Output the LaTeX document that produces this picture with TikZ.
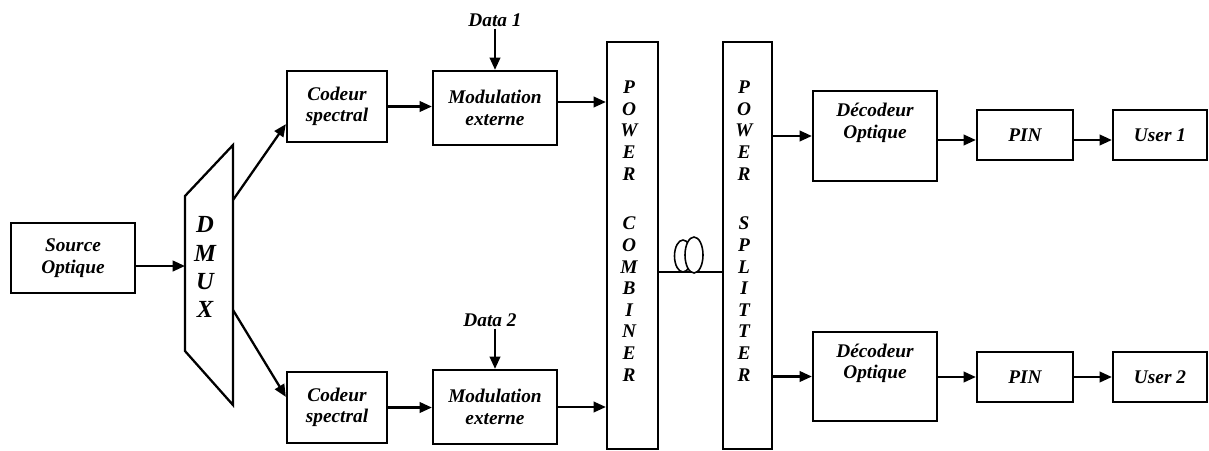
\documentclass[tikz,border=0pt]{standalone}
\usepackage{fontspec}
\setmainfont{Liberation Serif}
\usetikzlibrary{arrows.meta,calc}
\newcommand\lbl{\fontsize{11}{12.3}\selectfont\bfseries\itshape}
\newcommand\dmuxfont{\fontsize{14}{16}\selectfont\bfseries\itshape}
\begin{document}
\begin{tikzpicture}[x=0.02cm,y=-0.02cm,
  box/.style={draw, line width=1.3pt, inner sep=0pt, font=\lbl, align=center},
  txt/.style={inner sep=1pt, font=\lbl, align=center},
  arr/.style={line width=1.3pt, -{Triangle[length=7pt,width=6pt]}},
  fiber/.style={line width=0.9pt}]
\useasboundingbox (0,0) rectangle (1209,450);

% source and demultiplexer
\node[box, minimum width=2.48cm, minimum height=1.4cm] (src) at (73,258) {Source\\Optique};
\draw[line width=1.3pt] (185,196) -- (233,145) -- (233,405) -- (185,351) -- cycle;
\coordinate (dmuxin) at (185,266);
\coordinate (dmuxup) at (233,200);
\coordinate (dmuxdn) at (233,310);
\node[inner sep=0pt, font=\dmuxfont, align=center] (dmuxlbl) at (205,267) {D\\M\\U\\X};
\draw[arr] (src.east |- dmuxin) -- (dmuxin);

% upper branch
\node[box, minimum width=2cm, minimum height=1.42cm] (c1) at (337,106.5) {Codeur\\spectral};
\node[box, minimum width=2.48cm, minimum height=1.48cm] (m1) at (495,108) {Modulation\\externe};
\node[txt] (d1) at (495,20) {Data 1};
% lower branch
\node[box, minimum width=2cm, minimum height=1.42cm] (c2) at (337,407.5) {Codeur\\spectral};
\node[box, minimum width=2.48cm, minimum height=1.48cm] (m2) at (495,407) {Modulation\\externe};
\node[txt] (d2) at (490,320) {Data 2};

% combiner and splitter
\node[box, minimum width=1.02cm, minimum height=8.14cm] (comb) at (632.5,245.5) {};
\node[txt, inner sep=0pt] (combt) at (629,231) {P\\O\\W\\E\\R\\[16pt]C\\O\\M\\B\\I\\N\\E\\R};
\node[box, minimum width=0.98cm, minimum height=8.14cm] (split) at (747.5,245.5) {};
\node[txt, inner sep=0pt] (splitt) at (744,231) {P\\O\\W\\E\\R\\[16pt]S\\P\\L\\I\\T\\T\\E\\R};

% receivers
\node[box, minimum width=2.48cm, minimum height=1.8cm] (dec1) at (875,136) {};
\node[txt] (dec1t) at (875,123) {Décodeur\\Optique};
\node[box, minimum width=1.92cm, minimum height=1cm] (pin1) at (1025,135) {PIN};
\node[box, minimum width=1.88cm, minimum height=1cm] (u1) at (1160,135) {User 1};
\node[box, minimum width=2.48cm, minimum height=1.78cm] (dec2) at (875,376.5) {};
\node[txt] (dec2t) at (875,363.5) {Décodeur\\Optique};
\node[box, minimum width=1.92cm, minimum height=1cm] (pin2) at (1025,377) {PIN};
\node[box, minimum width=1.88cm, minimum height=1cm] (u2) at (1160,377) {User 2};

% connectors
\draw[arr] (dmuxup) -- ($(c1.south west)+(0,-19)$);
\draw[arr] (dmuxdn) -- ($(c2.north west)+(0,26)$);
\draw[arr] (c1.east) -- (c1.east -| m1.west);
\draw[arr] (c2.east) -- (c2.east -| m2.west);
\draw[arr] (d1.south) -- (d1.south |- m1.north);
\draw[arr] (d2.south -| m2.north) -- (m2.north);
\coordinate (o1) at ($(m1.east)+(0,-6)$);
\draw[arr] (o1) -- (o1 -| comb.west);
\draw[arr] (m2.east) -- (m2.east -| comb.west);

% fibre link with coil
\coordinate (fy) at (0,272);
\draw[fiber] (comb.east |- fy) -- (split.west |- fy);
\draw[fiber] (683,256) ellipse [x radius=0.17cm, y radius=0.32cm];
\draw[fiber, fill=white] (694,255) ellipse [x radius=0.18cm, y radius=0.36cm];

\draw[arr] (split.east |- dec1.west) -- (dec1.west);
\draw[arr] (split.east |- dec2.west) -- (dec2.west);
\coordinate (r1) at ($(pin1.west)+(0,5)$);
\draw[arr] (dec1.east |- r1) -- (r1);
\coordinate (r2) at ($(u1.west)+(0,5)$);
\draw[arr] (pin1.east |- r2) -- (r2);
\draw[arr] (dec2.east |- pin2.west) -- (pin2.west);
\draw[arr] (pin2.east) -- (u2.west);
\end{tikzpicture}
\end{document}
